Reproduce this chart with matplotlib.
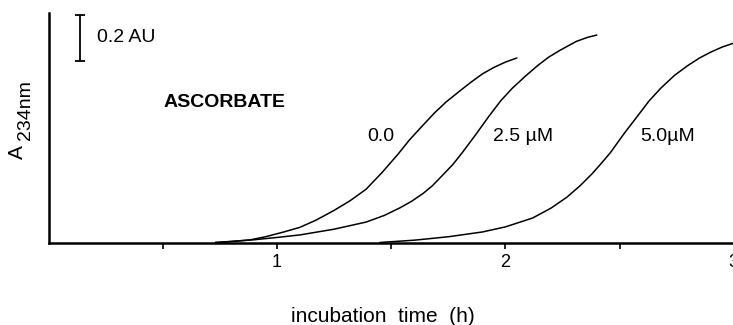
import matplotlib
matplotlib.use("Agg")
import matplotlib.pyplot as plt
from matplotlib.ticker import FixedLocator, NullFormatter

plt.rcParams['font.family'] = ['Liberation Sans', 'DejaVu Sans']

# ---- data (hours, absorbance units) ----
t_00 = [0.73, 0.80, 0.88, 0.95, 1.03, 1.10, 1.17, 1.25, 1.32, 1.39, 1.46, 1.53,
        1.58, 1.64, 1.69, 1.74, 1.80, 1.85, 1.90, 1.95, 2.00, 2.05]
a_00 = [0.000, 0.004, 0.011, 0.025, 0.046, 0.066, 0.097, 0.140, 0.182, 0.232, 0.305, 0.385,
        0.447, 0.512, 0.565, 0.612, 0.660, 0.699, 0.735, 0.763, 0.786, 0.804]

t_25 = [0.73, 0.90, 1.00, 1.10, 1.25, 1.39, 1.47, 1.54, 1.59, 1.64, 1.68, 1.72, 1.77,
        1.81, 1.87, 1.93, 1.98, 2.03, 2.09, 2.14, 2.19, 2.24, 2.31, 2.36, 2.40]
a_25 = [0.000, 0.012, 0.022, 0.033, 0.058, 0.089, 0.118, 0.152, 0.180, 0.214, 0.247, 0.288, 0.340,
        0.390, 0.470, 0.553, 0.618, 0.672, 0.727, 0.770, 0.808, 0.838, 0.876, 0.894, 0.904]

t_50 = [1.45, 1.60, 1.75, 1.90, 2.00, 2.12, 2.20, 2.27, 2.33, 2.38, 2.42, 2.46, 2.52,
        2.58, 2.63, 2.68, 2.74, 2.80, 2.85, 2.90, 2.95, 3.00]
a_50 = [0.000, 0.010, 0.025, 0.046, 0.068, 0.107, 0.150, 0.198, 0.250, 0.300, 0.345, 0.392, 0.475,
        0.553, 0.618, 0.672, 0.728, 0.772, 0.804, 0.830, 0.852, 0.869]

curve_labels = ["0.0", "2.5 µM", "5.0µM"]
label_x = [1.394, 1.946, 2.59]
label_y = [0.46, 0.46, 0.46]

major_ticks = [1, 2, 3]
minor_ticks = [0.5, 1.5, 2.5]
tick_labels = ["1", "2", "3"]

scale_value = 0.2
scale_x = 0.137
scale_center = 0.893

# ---- figure ----
fig = plt.figure(figsize=(7.33, 3.25), dpi=100)
ax = fig.add_axes([48.6 / 733, (325 - 242.5) / 325, 685.2 / 733, 229.5 / 325])

for t, a in [(t_00, a_00), (t_25, a_25), (t_50, a_50)]:
    ax.plot(t, a, color='black', lw=1.1, clip_on=False,
            solid_capstyle='round', solid_joinstyle='round')

for lab, x, y in zip(curve_labels, label_x, label_y):
    ax.text(x, y, lab, fontsize=14, ha='left', va='center')

ax.text(0.501, 0.612, "ASCORBATE", fontsize=14, fontweight='bold', ha='left', va='center')

# scale bar
ax.errorbar([scale_x], [scale_center], yerr=[scale_value / 2], color='black',
            lw=1.3, capsize=3.5, capthick=1.3, clip_on=False)
ax.text(0.212, scale_center, "0.2 AU", fontsize=14, ha='left', va='center')

ax.set_xlim(0, 3)
ax.set_ylim(0, 1.0)

for s in ['top', 'right']:
    ax.spines[s].set_visible(False)
ax.spines['left'].set_linewidth(1.8)
ax.spines['bottom'].set_linewidth(1.8)

ax.xaxis.set_major_locator(FixedLocator(major_ticks))
ax.set_xticklabels(tick_labels, fontsize=13)
ax.xaxis.set_minor_locator(FixedLocator(minor_ticks))
ax.xaxis.set_minor_formatter(NullFormatter())
ax.tick_params(axis='x', which='both', direction='out', length=4.5, width=1.2, pad=4)
ax.set_yticks([])

# y label "A 234nm"
fig.text(17.5 / 733, 1 - 152 / 325, "A", fontsize=15, rotation=90, ha='center', va='center')
fig.text(25.5 / 733, 1 - 110 / 325, "234nm", fontsize=14, rotation=90, ha='center', va='center')

# x label
fig.text((285 + 480) / 2 / 733, 3 / 325, "incubation  time  (h)", fontsize=15,
         ha='center', va='baseline')

fig.savefig("out.png", dpi=100)
